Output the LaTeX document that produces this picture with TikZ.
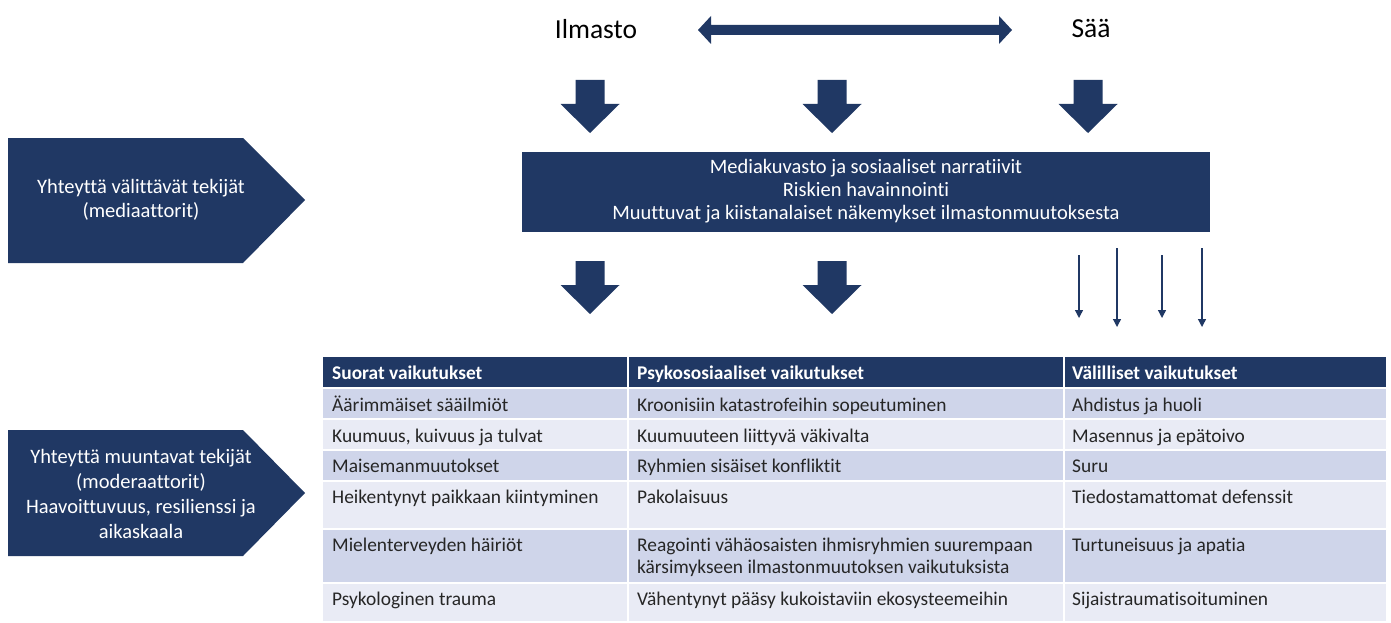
\documentclass[tikz,border=0pt]{standalone}
\usepackage{fontspec}
\setmainfont{Carlito}[Ligatures=NoCommon]
\usetikzlibrary{arrows.meta,calc}
\definecolor{navy}{HTML}{203864}
\definecolor{rowA}{HTML}{CFD5EA}
\definecolor{rowB}{HTML}{E9EBF5}
\definecolor{ink}{HTML}{262626}
\tikzset{
  blockdown/.pic={\fill[navy] (-14.5,0) -- (14.5,0) -- (14.5,24) -- (29.5,24) -- (0,53) -- (-29.5,24) -- (-14.5,24) -- cycle;},
  thinarrow/.style={draw=navy, line width=1.3pt, -{Triangle[width=8pt,length=8pt]}},
  whitetxt/.style={text=white, align=center, inner sep=0pt, font=\fontsize{20.5}{24}\selectfont},
  toptxt/.style={inner sep=0pt, font=\fontsize{27.5}{30}\selectfont, text=black},
  celltxt/.style={anchor=base west, inner sep=0pt, align=left, text=ink, font=\fontsize{19.4}{22}\selectfont},
  headtxt/.style={anchor=base west, inner sep=0pt, text=white, font=\bfseries\fontsize{19.4}{22}\selectfont},
  sep/.style={draw=white, line width=2pt}
}
\begin{document}
\begin{tikzpicture}[x=1pt,y=-1pt]
\useasboundingbox[fill=white] (0,0) rectangle (1391,623);
% top labels
\node[toptxt] (ilm) at (596,29) {Ilmasto};
\node[toptxt] (saa) at (1091,29) {Sää};
\coordinate (dl) at (698,30);
\coordinate (dr) at (1012,30);
\fill[navy] (dl) -- ++(13,-14) -- ++(0,9) -- ($(dr)+(-13,-5)$) -- ++(0,-9) -- (dr) -- ++(-13,14) -- ++(0,-9) -- ($(dl)+(13,5)$) -- ++(0,9) -- cycle;
% top block arrows
\pic at (590,80) {blockdown};
\pic at (832,80) {blockdown};
\pic at (1088,80) {blockdown};
% middle box
\node[fill=navy, minimum width=688pt, minimum height=80pt, inner sep=0pt] (box) at (866,192) {};
\node[whitetxt, font=\fontsize{20.5}{23}\selectfont] (boxtxt) at (866,191) {Mediakuvasto ja sosiaaliset narratiivit\\Riskien havainnointi\\Muuttuvat ja kiistanalaiset näkemykset ilmastonmuutoksesta};
% bottom block arrows
\pic at (590,261) {blockdown};
\pic at (832,261) {blockdown};
% thin arrows
\coordinate (a1s) at (1079,255); \coordinate (a1e) at (1079,318);
\coordinate (a2s) at (1117,248); \coordinate (a2e) at (1117,327);
\coordinate (a3s) at (1162,255); \coordinate (a3e) at (1162,318);
\coordinate (a4s) at (1202,248); \coordinate (a4e) at (1202,327);
\draw[thinarrow] (a1s) -- (a1e);
\draw[thinarrow] (a2s) -- (a2e);
\draw[thinarrow] (a3s) -- (a3e);
\draw[thinarrow] (a4s) -- (a4e);
% pentagons
\fill[navy] (8,138) -- (243,138) -- (305,200) -- (243,263) -- (8,263) -- cycle;
\node[whitetxt] (med) at (141,200) {Yhteyttä välittävät tekijät\\(mediaattorit)};
\fill[navy] (8,430) -- (243,430) -- (305,493) -- (243,556) -- (8,556) -- cycle;
\node[whitetxt, font=\fontsize{20.5}{24.7}\selectfont] (mod) at (141,494) {Yhteyttä muuntavat tekijät\\(moderaattorit)\\Haavoittuvuus, resilienssi ja\\aikaskaala};
% table backgrounds
\fill[navy] (323,357) rectangle (1386,388);
\fill[rowA] (323,388) rectangle (1386,419);
\fill[rowB] (323,419) rectangle (1386,450);
\fill[rowA] (323,450) rectangle (1386,481);
\fill[rowB] (323,481) rectangle (1386,529);
\fill[rowA] (323,529) rectangle (1386,583);
\fill[rowB] (323,583) rectangle (1386,621);
\foreach \yy in {388,419,450,481,529,583} \draw[sep] (323,\yy) -- (1386,\yy);
\foreach \xx in {628,1064} \draw[sep] (\xx,357) -- (\xx,621);
% header
\node[headtxt] (h1) at (332,379) {Suorat vaikutukset};
\node[headtxt] (h2) at (637,379) {Psykososiaaliset vaikutukset};
\node[headtxt] (h3) at (1072,379) {Välilliset vaikutukset};
% rows
\node[celltxt] (r11) at (332,411) {Äärimmäiset sääilmiöt};
\node[celltxt] (r12) at (637,411) {Kroonisiin katastrofeihin sopeutuminen};
\node[celltxt] (r13) at (1072,411) {Ahdistus ja huoli};
\node[celltxt] (r21) at (332,442) {Kuumuus, kuivuus ja tulvat};
\node[celltxt] (r22) at (637,442) {Kuumuuteen liittyvä väkivalta};
\node[celltxt] (r23) at (1072,442) {Masennus ja epätoivo};
\node[celltxt] (r31) at (332,472) {Maisemanmuutokset};
\node[celltxt] (r32) at (637,472) {Ryhmien sisäiset konfliktit};
\node[celltxt] (r33) at (1072,472) {Suru};
\node[celltxt] (r41) at (332,503) {Heikentynyt paikkaan kiintyminen};
\node[celltxt] (r42) at (637,503) {Pakolaisuus};
\node[celltxt] (r43) at (1072,503) {Tiedostamattomat defenssit};
\node[celltxt] (r51) at (332,551) {Mielenterveyden häiriöt};
\node[celltxt] (r52) at (637,573) {Reagointi vähäosaisten ihmisryhmien suurempaan\\kärsimykseen ilmastonmuutoksen vaikutuksista};
\node[celltxt] (r53) at (1072,551) {Turtuneisuus ja apatia};
\node[celltxt] (r61) at (332,605) {Psykologinen trauma};
\node[celltxt] (r62) at (637,605) {Vähentynyt pääsy kukoistaviin ekosysteemeihin};
\node[celltxt] (r63) at (1072,605) {Sijaistraumatisoituminen};
\end{tikzpicture}
\end{document}
